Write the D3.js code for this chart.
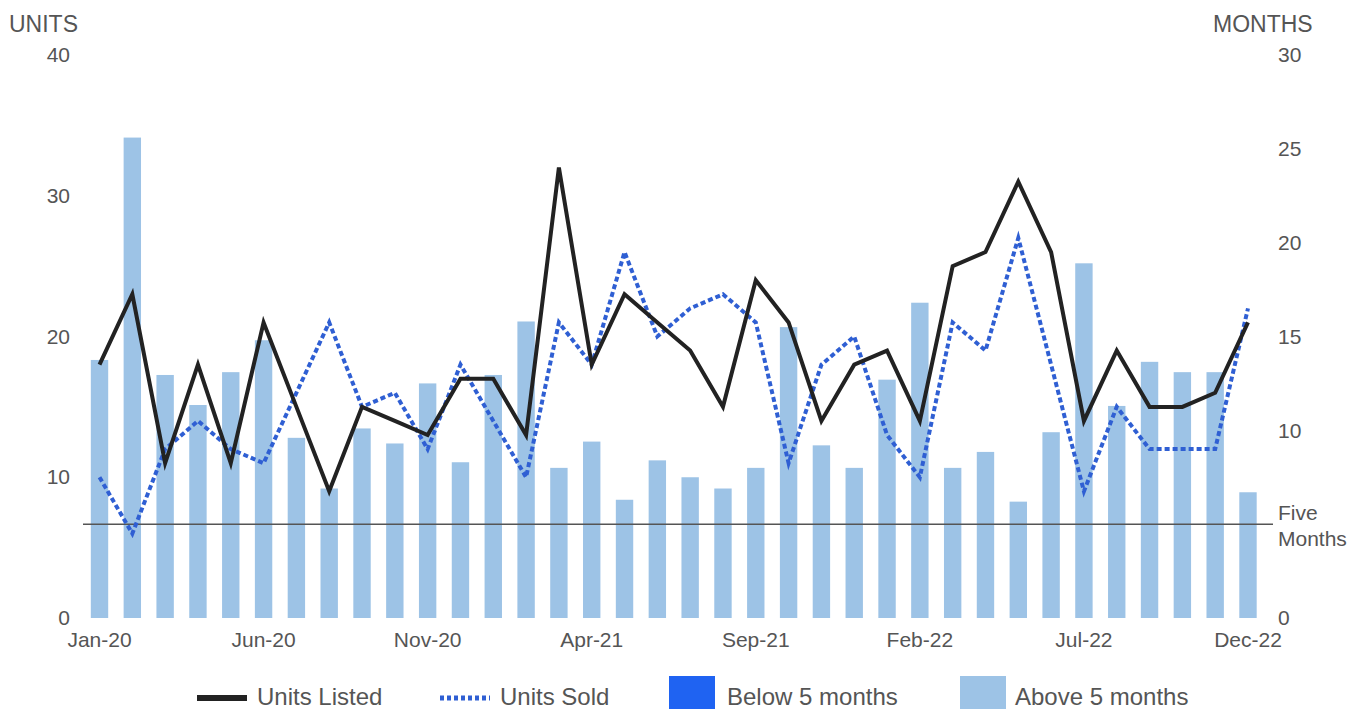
<!DOCTYPE html>
<html>
<head>
<meta charset="utf-8">
<script src="https://cdn.jsdelivr.net/npm/d3@7"></script>
<style>
  html, body { margin: 0; padding: 0; background: #fff; }
  svg text { font-family: "Liberation Sans", Arial, sans-serif; fill: #555; }
</style>
</head>
<body>
<svg id="chart" width="1359" height="709"></svg>
<script>
const months = ["Jan-20","Feb-20","Mar-20","Apr-20","May-20","Jun-20","Jul-20","Aug-20","Sep-20","Oct-20","Nov-20","Dec-20",
  "Jan-21","Feb-21","Mar-21","Apr-21","May-21","Jun-21","Jul-21","Aug-21","Sep-21","Oct-21","Nov-21","Dec-21",
  "Jan-22","Feb-22","Mar-22","Apr-22","May-22","Jun-22","Jul-22","Aug-22","Sep-22","Oct-22","Nov-22","Dec-22"];
const monthsOfInventory = [13.75, 25.6, 12.95, 11.35, 13.1, 14.8, 9.6, 6.9, 10.1, 9.3, 12.5, 8.3,
  12.95, 15.8, 8.0, 9.4, 6.3, 8.4, 7.5, 6.9, 8.0, 15.5, 9.2, 8.0,
  12.7, 16.8, 8.0, 8.85, 6.2, 9.9, 18.9, 11.3, 13.65, 13.1, 13.1, 6.7];
const unitsListed = [18, 23, 11, 18, 11, 21, 15, 9, 15, 14, 13, 17,
  17, 13, 32, 18, 23, 21, 19, 15, 24, 21, 14, 18,
  19, 14, 25, 26, 31, 26, 14, 19, 15, 15, 16, 21];
const unitsSold = [10, 6, 12, 14, 12, 11, 16, 21, 15, 16, 12, 18,
  14, 10, 21, 18, 26, 20, 22, 23, 21, 11, 18, 20,
  13, 10, 21, 19, 27, 18, 9, 15, 12, 12, 12, 22];
const xTickLabels = ["Jan-20","Jun-20","Nov-20","Apr-21","Sep-21","Feb-22","Jul-22","Dec-22"];
const leftTicks = [0, 10, 20, 30, 40];
const rightTicks = [0, 10, 15, 20, 25, 30];
const threshold = 5;
const legendItems = ["Units Listed", "Units Sold", "Below 5 months", "Above 5 months"];

const svg = d3.select("#chart");
const x = d3.scaleBand().domain(months).range([83.1, 1264.4]).paddingInner(0.47).paddingOuter(0.235);
const yL = d3.scaleLinear().domain([0, 40]).range([618, 55]);
const yR = d3.scaleLinear().domain([0, 30]).range([618, 55]);
const cx = m => x(m) + x.bandwidth() / 2;

const colBar = "#9dc3e6", colBelow = "#1f63f2", colSold = "#2f5fd3", colListed = "#222";

// bars
svg.append("g").selectAll("rect").data(months).join("rect")
  .attr("x", d => x(d)).attr("width", x.bandwidth())
  .attr("y", (d, i) => yR(monthsOfInventory[i]))
  .attr("height", (d, i) => yR(0) - yR(monthsOfInventory[i]))
  .attr("fill", (d, i) => monthsOfInventory[i] < threshold ? colBelow : colBar);

// five months line
svg.append("line").attr("x1", 83).attr("x2", 1273)
  .attr("y1", yR(threshold)).attr("y2", yR(threshold))
  .attr("stroke", "#555").attr("stroke-width", 1.5);
svg.append("text").attr("x", 1278).attr("y", yR(threshold) - 12).attr("dy", "0.35em")
  .style("font-size", "21px").text("Five");
svg.append("text").attr("x", 1278).attr("y", yR(threshold) + 14).attr("dy", "0.35em")
  .style("font-size", "21px").text("Months");

// lines
const line = d3.line().x((d, i) => cx(months[i])).y(d => yL(d));
svg.append("path").datum(unitsSold).attr("d", line)
  .attr("fill", "none").attr("stroke", colSold).attr("stroke-width", 4)
  .attr("stroke-dasharray", "5,3");
svg.append("path").datum(unitsListed).attr("d", line)
  .attr("fill", "none").attr("stroke", colListed).attr("stroke-width", 4)
  .attr("stroke-linejoin", "miter");

// axes
const gL = svg.append("g").attr("transform", "translate(70,0)")
  .call(d3.axisLeft(yL).tickValues(leftTicks).tickSize(0).tickPadding(0));
const gR = svg.append("g").attr("transform", "translate(1278,0)")
  .call(d3.axisRight(yR).tickValues(rightTicks).tickSize(0).tickPadding(0));
const gX = svg.append("g").attr("transform", "translate(0,632)")
  .call(d3.axisBottom(x).tickValues(xTickLabels).tickSize(0).tickPadding(0));
[gL, gR, gX].forEach(g => {
  g.select(".domain").remove();
  g.selectAll("text").style("font-size", "21px").style("fill", "#555")
    .style("font-family", "'Liberation Sans', Arial, sans-serif");
});
gX.selectAll("text").attr("dy", "0.72em");

// axis titles
svg.append("text").attr("x", 9).attr("y", 24).attr("dy", "0.35em").style("font-size", "23px").text("UNITS");
svg.append("text").attr("x", 1213).attr("y", 24).attr("dy", "0.35em").style("font-size", "23px").text("MONTHS");

// legend
const lg = svg.append("g");
lg.append("line").attr("x1", 197).attr("x2", 247).attr("y1", 698).attr("y2", 698)
  .attr("stroke", colListed).attr("stroke-width", 6);
lg.append("text").attr("x", 257).attr("y", 705).style("font-size", "24px").text(legendItems[0]);
lg.append("line").attr("x1", 440).attr("x2", 490).attr("y1", 698).attr("y2", 698)
  .attr("stroke", colSold).attr("stroke-width", 5).attr("stroke-dasharray", "4,3");
lg.append("text").attr("x", 500).attr("y", 705).style("font-size", "24px").text(legendItems[1]);
lg.append("rect").attr("x", 669).attr("y", 676).attr("width", 46).attr("height", 46).attr("fill", colBelow);
lg.append("text").attr("x", 727).attr("y", 705).style("font-size", "24px").text(legendItems[2]);
lg.append("rect").attr("x", 960).attr("y", 676).attr("width", 46).attr("height", 46).attr("fill", colBar);
lg.append("text").attr("x", 1015).attr("y", 705).style("font-size", "24px").text(legendItems[3]);
</script>
</body>
</html>
